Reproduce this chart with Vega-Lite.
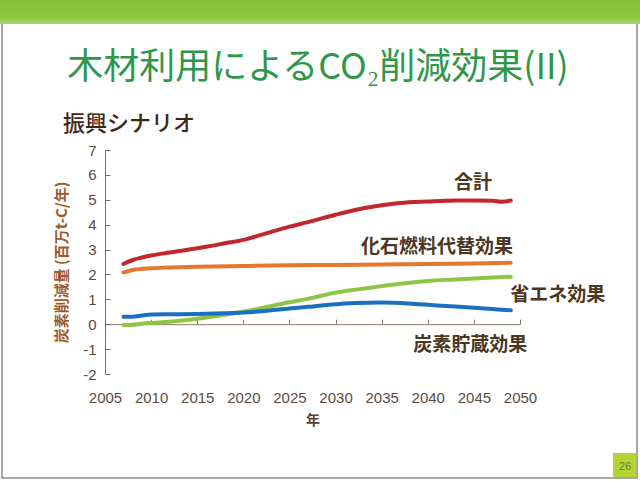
{
  "$schema": "https://vega.github.io/schema/vega-lite/v6.json",
  "autosize": "none",
  "width": 415,
  "height": 224,
  "padding": {"left": 105, "top": 150, "right": 120, "bottom": 107},
  "background": "#ffffff",
  "config": {
    "view": {"stroke": null},
    "font": "Noto Sans CJK JP"
  },
  "datasets": {
    "series": [
      {"year": 2007, "series": "合計", "value": 2.42},
      {"year": 2008, "series": "合計", "value": 2.58},
      {"year": 2009, "series": "合計", "value": 2.68},
      {"year": 2010, "series": "合計", "value": 2.76},
      {"year": 2012, "series": "合計", "value": 2.88},
      {"year": 2015, "series": "合計", "value": 3.05},
      {"year": 2018, "series": "合計", "value": 3.25},
      {"year": 2020, "series": "合計", "value": 3.39},
      {"year": 2022, "series": "合計", "value": 3.6},
      {"year": 2025, "series": "合計", "value": 3.92},
      {"year": 2027, "series": "合計", "value": 4.1},
      {"year": 2030, "series": "合計", "value": 4.4},
      {"year": 2032, "series": "合計", "value": 4.58},
      {"year": 2035, "series": "合計", "value": 4.78},
      {"year": 2037, "series": "合計", "value": 4.87},
      {"year": 2040, "series": "合計", "value": 4.93},
      {"year": 2043, "series": "合計", "value": 4.97},
      {"year": 2045, "series": "合計", "value": 4.97},
      {"year": 2047, "series": "合計", "value": 4.96},
      {"year": 2048, "series": "合計", "value": 4.92},
      {"year": 2049, "series": "合計", "value": 4.97},
      {"year": 2007, "series": "化石燃料代替効果", "value": 2.08},
      {"year": 2008, "series": "化石燃料代替効果", "value": 2.18},
      {"year": 2010, "series": "化石燃料代替効果", "value": 2.25},
      {"year": 2012, "series": "化石燃料代替効果", "value": 2.28},
      {"year": 2015, "series": "化石燃料代替効果", "value": 2.31},
      {"year": 2020, "series": "化石燃料代替効果", "value": 2.34},
      {"year": 2025, "series": "化石燃料代替効果", "value": 2.37},
      {"year": 2030, "series": "化石燃料代替効果", "value": 2.38},
      {"year": 2035, "series": "化石燃料代替効果", "value": 2.4},
      {"year": 2040, "series": "化石燃料代替効果", "value": 2.42},
      {"year": 2045, "series": "化石燃料代替効果", "value": 2.44},
      {"year": 2049, "series": "化石燃料代替効果", "value": 2.47},
      {"year": 2007, "series": "省エネ効果", "value": -0.03},
      {"year": 2008, "series": "省エネ効果", "value": -0.02},
      {"year": 2009, "series": "省エネ効果", "value": 0.02},
      {"year": 2010, "series": "省エネ効果", "value": 0.05},
      {"year": 2012, "series": "省エネ効果", "value": 0.1},
      {"year": 2015, "series": "省エネ効果", "value": 0.22},
      {"year": 2018, "series": "省エネ効果", "value": 0.38},
      {"year": 2020, "series": "省エネ効果", "value": 0.5},
      {"year": 2022, "series": "省エネ効果", "value": 0.65},
      {"year": 2025, "series": "省エネ効果", "value": 0.88},
      {"year": 2027, "series": "省エネ効果", "value": 1.02},
      {"year": 2030, "series": "省エネ効果", "value": 1.27},
      {"year": 2032, "series": "省エネ効果", "value": 1.38},
      {"year": 2035, "series": "省エネ効果", "value": 1.53},
      {"year": 2037, "series": "省エネ効果", "value": 1.63},
      {"year": 2040, "series": "省エネ効果", "value": 1.74},
      {"year": 2043, "series": "省エネ効果", "value": 1.8},
      {"year": 2045, "series": "省エネ効果", "value": 1.84},
      {"year": 2049, "series": "省エネ効果", "value": 1.91},
      {"year": 2007, "series": "炭素貯蔵効果", "value": 0.3},
      {"year": 2008, "series": "炭素貯蔵効果", "value": 0.3},
      {"year": 2009, "series": "炭素貯蔵効果", "value": 0.35},
      {"year": 2010, "series": "炭素貯蔵効果", "value": 0.39},
      {"year": 2012, "series": "炭素貯蔵効果", "value": 0.4},
      {"year": 2015, "series": "炭素貯蔵効果", "value": 0.41},
      {"year": 2018, "series": "炭素貯蔵効果", "value": 0.44},
      {"year": 2020, "series": "炭素貯蔵効果", "value": 0.47},
      {"year": 2022, "series": "炭素貯蔵効果", "value": 0.52},
      {"year": 2025, "series": "炭素貯蔵効果", "value": 0.63},
      {"year": 2027, "series": "炭素貯蔵効果", "value": 0.7},
      {"year": 2030, "series": "炭素貯蔵効果", "value": 0.8},
      {"year": 2032, "series": "炭素貯蔵効果", "value": 0.85},
      {"year": 2035, "series": "炭素貯蔵効果", "value": 0.87},
      {"year": 2037, "series": "炭素貯蔵効果", "value": 0.85},
      {"year": 2040, "series": "炭素貯蔵効果", "value": 0.78},
      {"year": 2043, "series": "炭素貯蔵効果", "value": 0.71},
      {"year": 2045, "series": "炭素貯蔵効果", "value": 0.66},
      {"year": 2047, "series": "炭素貯蔵効果", "value": 0.61},
      {"year": 2049, "series": "炭素貯蔵効果", "value": 0.56}
    ],
    "labels": [
      {"label": "合計", "year": 2044.9, "value": 5.66},
      {"label": "化石燃料代替効果", "year": 2041.0, "value": 3.1},
      {"label": "省エネ効果", "year": 2054.1, "value": 1.16},
      {"label": "炭素貯蔵効果", "year": 2044.6, "value": -0.85}
    ]
  },
  "resolve": {"axis": {"x": "independent", "y": "independent"}},
  "layer": [
    {
      "data": {"values": [{}]},
      "mark": {"type": "rect", "fill": null, "stroke": "#8a8a8a", "strokeWidth": 1.5},
      "encoding": {
        "x": {"datum": 1993.83, "type": "quantitative", "scale": {"domain": [2005, 2050], "nice": false, "zero": false}, "axis": null},
        "x2": {"datum": 2062.69},
        "y": {"datum": 12.99, "type": "quantitative", "scale": {"domain": [-2, 7], "nice": false}, "axis": null},
        "y2": {"datum": -6.18}
      }
    },
    {
      "data": {"values": [{}]},
      "mark": {
        "type": "rect",
        "color": {
          "gradient": "linear", "x1": 0, "y1": 0, "x2": 0, "y2": 1,
          "stops": [
            {"offset": 0, "color": "#84be38"},
            {"offset": 0.7, "color": "#8dc641"},
            {"offset": 1, "color": "#a9d36a"}
          ]
        }
      },
      "encoding": {
        "x": {"datum": 1993.61, "type": "quantitative", "axis": null},
        "x2": {"datum": 2063.01},
        "y": {"datum": 13.03, "type": "quantitative", "axis": null},
        "y2": {"datum": 12.06}
      }
    },
    {
      "data": {"values": [{}]},
      "mark": {"type": "rect", "color": "#b5d334"},
      "encoding": {
        "x": {"datum": 2060.09, "type": "quantitative", "axis": null},
        "x2": {"datum": 2062.6},
        "y": {"datum": -5.175, "type": "quantitative", "axis": null},
        "y2": {"datum": -6.14}
      }
    },
    {
      "data": {"values": [{"t": "26"}]},
      "mark": {"type": "text", "font": "Liberation Sans", "fontSize": 11, "color": "#4f8c2c", "baseline": "middle"},
      "encoding": {
        "x": {"datum": 2061.4, "type": "quantitative", "axis": null},
        "y": {"datum": -5.74, "type": "quantitative", "axis": null},
        "text": {"field": "t"}
      }
    },
    {
      "data": {"values": [{"t": "木材利用によるCO₂削減効果(II)"}]},
      "mark": {"type": "text", "fontSize": 36, "color": "#2f974a", "baseline": "middle"},
      "encoding": {
        "x": {"datum": 2028.1, "type": "quantitative", "axis": null},
        "y": {"datum": 10.29, "type": "quantitative", "axis": null},
        "text": {"field": "t"}
      }
    },
    {
      "data": {"values": [{"t": "振興シナリオ"}]},
      "mark": {"type": "text", "fontSize": 22, "fontWeight": 500, "color": "#3f2718", "baseline": "middle", "align": "left"},
      "encoding": {
        "x": {"datum": 2000.45, "type": "quantitative", "axis": null},
        "y": {"datum": 8.04, "type": "quantitative", "axis": null},
        "text": {"field": "t"}
      }
    },
    {
      "data": {"name": "series"},
      "mark": {"type": "line", "strokeWidth": 4, "strokeCap": "round", "interpolate": "monotone"},
      "encoding": {
        "x": {
          "field": "year",
          "type": "quantitative",
          "scale": {"domain": [2005, 2050], "nice": false, "zero": false},
          "axis": {
            "values": [2005, 2010, 2015, 2020, 2025, 2030, 2035, 2040, 2045, 2050],
            "format": "d",
            "domain": false,
            "ticks": false,
            "grid": false,
            "labelFlush": false,
            "labelOverlap": false,
            "labelFont": "Liberation Sans",
            "labelFontSize": 15,
            "labelColor": "#5c4b3b",
            "labelPadding": 16,
            "title": "年",
            "titleFontSize": 14,
            "titleFontWeight": "bold",
            "titleColor": "#5c4030",
            "titlePadding": 8
          }
        },
        "y": {
          "field": "value",
          "type": "quantitative",
          "scale": {"domain": [-2, 7], "nice": false},
          "axis": {
            "values": [-2, -1, 0, 1, 2, 3, 4, 5, 6, 7],
            "labelExpr": "replace(datum.label, '−', '-')",
            "grid": false,
            "labelFlush": false,
            "labelOverlap": false,
            "domainColor": "#7a6a5a",
            "tickColor": "#7a6a5a",
            "tickSize": -5,
            "labelFont": "Liberation Sans",
            "labelFontSize": 15,
            "labelColor": "#5c4b3b",
            "labelPadding": 14,
            "title": "炭素削減量 (百万t-C/年)",
            "titleFontSize": 15,
            "titleFontWeight": "bold",
            "titleColor": "#9b5a2b",
            "titlePadding": 13
          }
        },
        "color": {
          "field": "series",
          "type": "nominal",
          "scale": {
            "domain": ["合計", "化石燃料代替効果", "省エネ効果", "炭素貯蔵効果"],
            "range": ["#c1272d", "#e8772e", "#8dc544", "#1b6fc0"]
          },
          "legend": null
        }
      }
    },
    {
      "data": {"name": "labels"},
      "mark": {"type": "text", "fontSize": 19, "fontWeight": "bold", "color": "#4b3621", "baseline": "middle"},
      "encoding": {
        "x": {
          "field": "year",
          "type": "quantitative",
          "axis": {
            "orient": "bottom",
            "offset": -49.8,
            "values": [2005, 2010, 2015, 2020, 2025, 2030, 2035, 2040, 2045, 2050],
            "labels": false,
            "grid": false,
            "domainColor": "#8c7b6b",
            "tickColor": "#8c7b6b",
            "tickSize": -5,
            "title": null
          }
        },
        "y": {"field": "value", "type": "quantitative", "axis": null},
        "text": {"field": "label"}
      }
    }
  ]
}
